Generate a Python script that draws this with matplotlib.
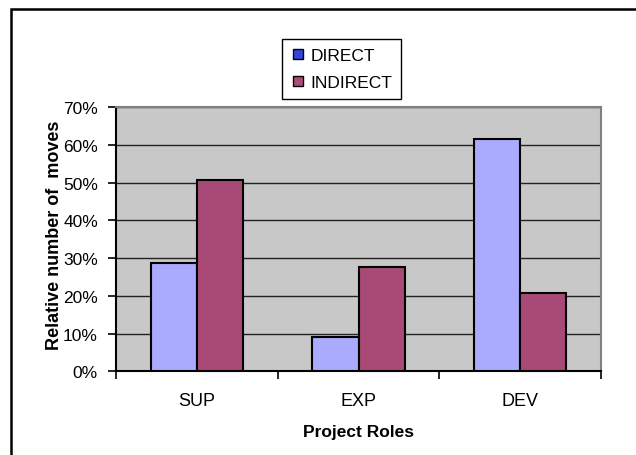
import matplotlib
matplotlib.use('Agg')
import matplotlib.pyplot as plt
from matplotlib.lines import Line2D
from matplotlib.patches import Rectangle
import numpy as np

plt.rcParams['font.family'] = ['Liberation Sans', 'DejaVu Sans']

roles = ['SUP', 'EXP', 'DEV']
direct = [28.7, 9.1, 61.5]
indirect = [50.8, 27.6, 20.8]
yticks = [0, 10, 20, 30, 40, 50, 60, 70]

fig = plt.figure(figsize=(6.36, 4.56), dpi=100)
ax = fig.add_axes([0.1824, 0.1836, 0.7626, 0.5794])

# figure border (Excel chart area)
fig.patches.append(Rectangle((11 / 636, -0.2), 1.2, 1.2 - 10 / 456,
                             transform=fig.transFigure, fill=False,
                             edgecolor='black', linewidth=1.8, clip_on=False))

x = np.arange(len(roles))
w = 0.285
ax.bar(x - w / 2, direct, w, color='#aaaaff', edgecolor='black', linewidth=1.5, zorder=3)
ax.bar(x + w / 2, indirect, w, color='#a94a76', edgecolor='black', linewidth=1.5, zorder=3)

ax.set_facecolor('#c8c8c8')
ax.set_xlim(-0.5, 2.5)
ax.set_ylim(0, 70)
ax.set_yticks(yticks)
ax.set_yticklabels(['%d%%' % v for v in yticks], fontsize=12.5)
ax.yaxis.grid(True, color='#222222', linewidth=1.0, zorder=1)
ax.set_axisbelow(True)

# categories labeled in between boundary ticks
ax.set_xticks([-0.5, 0.5, 1.5, 2.5])
ax.set_xticklabels([])
ax.set_xticks(x, minor=True)
ax.set_xticklabels(roles, minor=True, fontsize=13)
ax.tick_params(axis='x', which='minor', length=0, pad=15)
ax.tick_params(axis='x', which='major', length=6, width=1.2, direction='out')
ax.tick_params(axis='y', length=6, width=1.2, direction='out', pad=7)

for s in ['top', 'right']:
    ax.spines[s].set_color('#808080')
    ax.spines[s].set_linewidth(1.5)
for s in ['left', 'bottom']:
    ax.spines[s].set_color('black')
    ax.spines[s].set_linewidth(1.5)

ax.set_xlabel('Project Roles', fontsize=12.5, fontweight='bold', labelpad=11)
ax.set_ylabel('Relative number of  moves', fontsize=13, fontweight='bold')
ax.yaxis.set_label_coords(-0.109, 0.52)

handles = [Line2D([], [], marker='s', linestyle='none', markersize=7,
                  markerfacecolor='#3344dd', markeredgecolor='black'),
           Line2D([], [], marker='s', linestyle='none', markersize=7,
                  markerfacecolor='#b04a7a', markeredgecolor='black')]
leg = fig.legend(handles, ['DIRECT', 'INDIRECT'], loc='center',
                 bbox_to_anchor=(341.6 / 636, 1 - 70 / 456), fontsize=12.5,
                 fancybox=False, edgecolor='black', framealpha=1,
                 handlelength=0.8, handletextpad=0.3, labelspacing=0.7,
                 borderpad=0.5)
leg.get_frame().set_linewidth(1.0)

fig.savefig('out.png', dpi=100)
